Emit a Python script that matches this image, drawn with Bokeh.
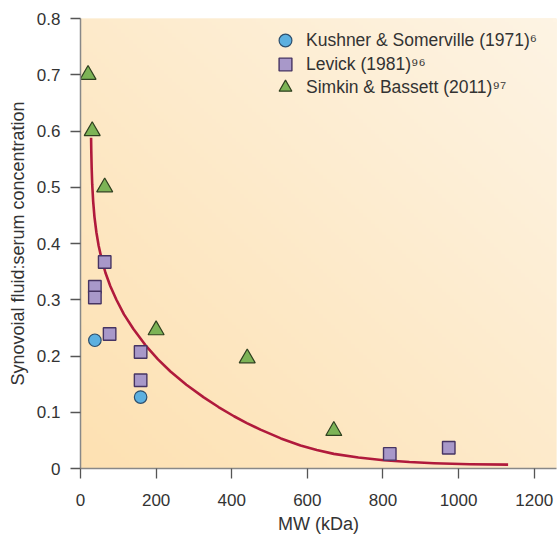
import numpy as np
from bokeh.plotting import figure
from bokeh.models import Legend, LegendItem, Range1d, FixedTicker
from bokeh.embed import file_html
from bokeh.resources import INLINE

# ---- data ----
kushner_mw = [38, 159]
kushner_ratio = [0.228, 0.127]

levick_mw = [64, 38, 38, 77, 159, 159, 818, 974]
levick_ratio = [0.367, 0.323, 0.304, 0.239, 0.207, 0.157, 0.026, 0.037]

simkin_mw = [20, 31, 64, 200, 441, 670]
simkin_ratio = [0.70, 0.60, 0.50, 0.246, 0.196, 0.067]

curve_mw = [28, 28.5, 29.5, 31, 33.5, 37, 42, 48, 56, 66, 79, 95, 115, 140, 172, 205, 238,
            280, 326, 365, 406, 440, 476, 530, 582, 625, 670, 735, 802, 870, 935, 1030, 1131]
curve_ratio = [0.588, 0.565, 0.535, 0.505, 0.475, 0.447, 0.420, 0.396, 0.372, 0.348, 0.324,
               0.300, 0.274, 0.248, 0.219, 0.194, 0.1725, 0.149, 0.1265, 0.1093, 0.0929,
               0.0807, 0.0692, 0.0535, 0.041, 0.0328, 0.026, 0.0195, 0.0148, 0.0115, 0.0094,
               0.0075, 0.0069]

x_ticks = [0, 200, 400, 600, 800, 1000, 1200]
y_ticks = [0, 0.1, 0.2, 0.3, 0.4, 0.5, 0.6, 0.7, 0.8]

labels = ["Kushner & Somerville (1971)\u2076",
          "Levick (1981)\u2079\u2076",
          "Simkin & Bassett (2011)\u2079\u2077"]

FONT = "Liberation Sans"
X_END = 1259
Y_END = 0.8

p = figure(width=558, height=536, output_backend="svg", toolbar_location=None,
           x_range=Range1d(0, X_END), y_range=Range1d(0, Y_END),
           min_border_left=80, min_border_right=2, min_border_top=18, min_border_bottom=65)
p.outline_line_color = None
p.grid.visible = False
p.background_fill_color = "#fdebcc"
p.border_fill_color = "white"

# diagonal gradient background (lower-left darker, upper-right lighter)
n = 120
u = np.linspace(0, 1, n)
U, V = np.meshgrid(u, u)
t = (U + V) / 2.0
c0 = np.array([253, 225, 178])
c1 = np.array([254, 244, 228])
img = np.zeros((n, n), dtype=np.uint32)
view = img.view(dtype=np.uint8).reshape((n, n, 4))
for k in range(3):
    view[:, :, k] = (c0[k] + (c1[k] - c0[k]) * t).astype(np.uint8)
view[:, :, 3] = 255
p.image_rgba(image=[img], x=0, y=0, dw=X_END, dh=Y_END)

p.line(curve_mw, curve_ratio, line_color="#b01a3c", line_width=2.6, line_join="round")

r1 = p.scatter(kushner_mw, kushner_ratio, marker="circle", size=12.5,
               fill_color="#5cb0e0", line_color="#2d4f6e", line_width=1.2)
r2 = p.scatter(levick_mw, levick_ratio, marker="square", size=12.5,
               fill_color="#a898c9", line_color="#463463", line_width=1.4)
r3 = p.scatter(simkin_mw, simkin_ratio, marker="triangle", size=16,
               fill_color="#7cb356", line_color="#2f4020", line_width=1.2)

# one single-item legend per row so the rows can sit closer than the glyph box
legend_rows = [(labels[0], r1, 412), (labels[1], r2, 388), (labels[2], r3, 365)]
for lab, rend, ypos in legend_rows:
    lg = Legend(items=[LegendItem(label=lab, renderers=[rend])],
                location=(189, ypos), orientation="vertical",
                background_fill_alpha=0, border_line_alpha=0,
                padding=0, margin=0, spacing=0, label_height=20, glyph_width=32,
                glyph_height=32, label_standoff=5,
                label_text_font=FONT, label_text_font_size="17.5px",
                label_text_color="#333333")
    p.add_layout(lg)

for ax in (p.xaxis[0], p.yaxis[0]):
    ax.axis_line_color = "#888888"
    ax.axis_line_width = 1.5
    ax.major_tick_line_color = "#555555"
    ax.major_tick_line_width = 1.3
    ax.major_tick_in = 0
    ax.major_tick_out = 10
    ax.minor_tick_line_color = None
    ax.major_label_text_font = FONT
    ax.major_label_text_font_size = "17px"
    ax.major_label_text_color = "#333333"
    ax.axis_label_text_font = FONT
    ax.axis_label_text_font_size = "18px"
    ax.axis_label_text_font_style = "normal"
    ax.axis_label_text_color = "#333333"

p.xaxis.ticker = FixedTicker(ticks=x_ticks)
p.yaxis.ticker = FixedTicker(ticks=y_ticks)
p.xaxis.major_label_overrides = {v: str(v) for v in x_ticks}
p.yaxis.major_label_overrides = {v: ("0" if v == 0 else f"{v:.1f}") for v in y_ticks}
p.xaxis.axis_label = "MW (kDa)"
p.yaxis.axis_label = "Synovoial fluid:serum concentration"
p.xaxis.major_label_standoff = 15
p.yaxis.major_label_standoff = 10
p.xaxis.axis_label_standoff = 5
p.yaxis.axis_label_standoff = 6

open("out.html", "w").write(file_html(p, INLINE))
